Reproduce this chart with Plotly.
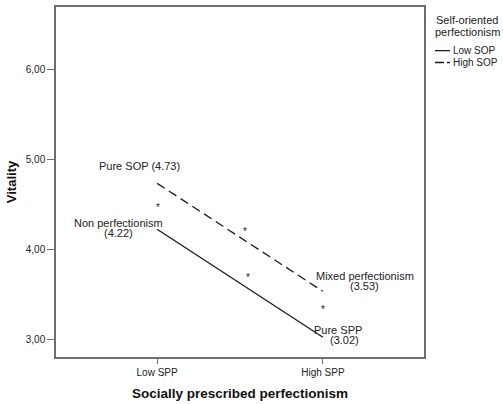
import plotly.graph_objects as go

# Interaction of socially prescribed (SPP) and self-oriented (SOP) perfectionism on vitality
spp_levels = ["Low SPP", "High SPP"]
low_sop = [4.22, 3.02]
high_sop = [4.73, 3.53]
y_ticks = [3, 4, 5, 6]
y_tick_text = ["3,00", "4,00", "5,00", "6,00"]

xpos = list(range(len(spp_levels)))
FONT = "Liberation Sans, Arial, sans-serif"
INK = "#222222"
FRAME = "#6e6e6e"

W, H, L, R, T, B = 503, 404, 56, 79, 5, 46
pw, ph = W - L - R, H - T - B

fig = go.Figure()
fig.add_trace(go.Scatter(x=xpos, y=low_sop, mode="lines", name="Low SOP",
                         line=dict(color="#1a1a1a", width=1.3, dash="solid"),
                         showlegend=False))
fig.add_trace(go.Scatter(x=xpos, y=high_sop, mode="lines", name="High SOP",
                         line=dict(color="#1a1a1a", width=1.3, dash="9px,5px"),
                         showlegend=False))


def note(text, x, y, dx=0, dy=0, size=11):
    fig.add_annotation(x=x, y=y, xref="x", yref="y", text=text, showarrow=False,
                       xshift=dx, yshift=dy, xanchor="center", yanchor="middle",
                       font=dict(family=FONT, size=size, color=INK))


# Cell labels (one annotation per line for tight line spacing)
note(f"Pure SOP ({high_sop[0]:.2f})", 0, high_sop[0], dx=-18, dy=17)
note("Non perfectionism", 0, low_sop[0], dx=-39, dy=6)
note(f"({low_sop[0]:.2f})", 0, low_sop[0], dx=-39, dy=-4)
note("Mixed perfectionism", 1, high_sop[1], dx=42, dy=15)
note(f"({high_sop[1]:.2f})", 1, high_sop[1], dx=42, dy=5)
note("Pure SPP", 1, low_sop[1], dx=15, dy=7)
note(f"({low_sop[1]:.2f})", 1, low_sop[1], dx=22, dy=-3)

# Significance markers
mid0 = (low_sop[0] + high_sop[0]) / 2
mid1 = (low_sop[1] + high_sop[1]) / 2
note("*", 0, mid0, dx=1, dy=-1, size=10)
note("*", 1, mid1, dx=0, dy=5, size=10)
slope_hi = high_sop[1] - high_sop[0]
slope_lo = low_sop[1] - low_sop[0]
note("*", 0.524, high_sop[0] + slope_hi * 0.524, dx=1, dy=8, size=10)
note("*", 0.548, low_sop[0] + slope_lo * 0.548, dx=0, dy=11, size=10)


def px(xp):
    return (xp - L) / pw


def py(yp):
    return (H - B - yp) / ph


def side_text(text, xp, yp, size, anchor="center"):
    fig.add_annotation(x=px(xp), y=py(yp), xref="paper", yref="paper", text=text,
                       showarrow=False, xanchor=anchor, yanchor="middle",
                       font=dict(family=FONT, size=size, color=INK))


# Legend drawn beside the plot frame
side_text("Self-oriented", 467, 18, 11)
side_text("perfectionism", 467, 30, 11)
for i, (name, dash) in enumerate([("Low SOP", "solid"), ("High SOP", "9px,3px")]):
    yy = 49 + 12 * i
    fig.add_shape(type="line", xref="paper", yref="paper", x0=px(435), x1=px(450),
                  y0=py(yy), y1=py(yy), line=dict(color="#1a1a1a", width=1.3, dash=dash))
    side_text(name, 451, yy, 10, anchor="left")

fig.update_layout(
    width=W, height=H, margin=dict(l=L, r=R, t=T, b=B),
    paper_bgcolor="white", plot_bgcolor="white",
    font=dict(family=FONT, color=INK),
)
fig.update_xaxes(range=[-0.61, 1.61], tickvals=xpos, ticktext=spp_levels,
                 showgrid=False, zeroline=False, showline=True, mirror=True,
                 linecolor=FRAME, linewidth=1.5, ticks="outside", ticklen=5,
                 tickcolor=FRAME, tickfont=dict(family=FONT, size=10, color=INK),
                 title=dict(text="<b>Socially prescribed perfectionism</b>",
                            font=dict(family=FONT, size=13.5, color="#111"), standoff=12))
fig.update_yaxes(range=[2.8, 6.69], tickvals=y_ticks, ticktext=y_tick_text,
                 showgrid=False, zeroline=False, showline=True, mirror=True,
                 linecolor=FRAME, linewidth=1.5, ticks="outside", ticklen=7,
                 tickcolor=FRAME, tickfont=dict(family=FONT, size=10, color=INK),
                 title=dict(text="<b>Vitality</b>",
                            font=dict(family=FONT, size=13, color="#111"), standoff=6))

fig.write_html("out.html")
